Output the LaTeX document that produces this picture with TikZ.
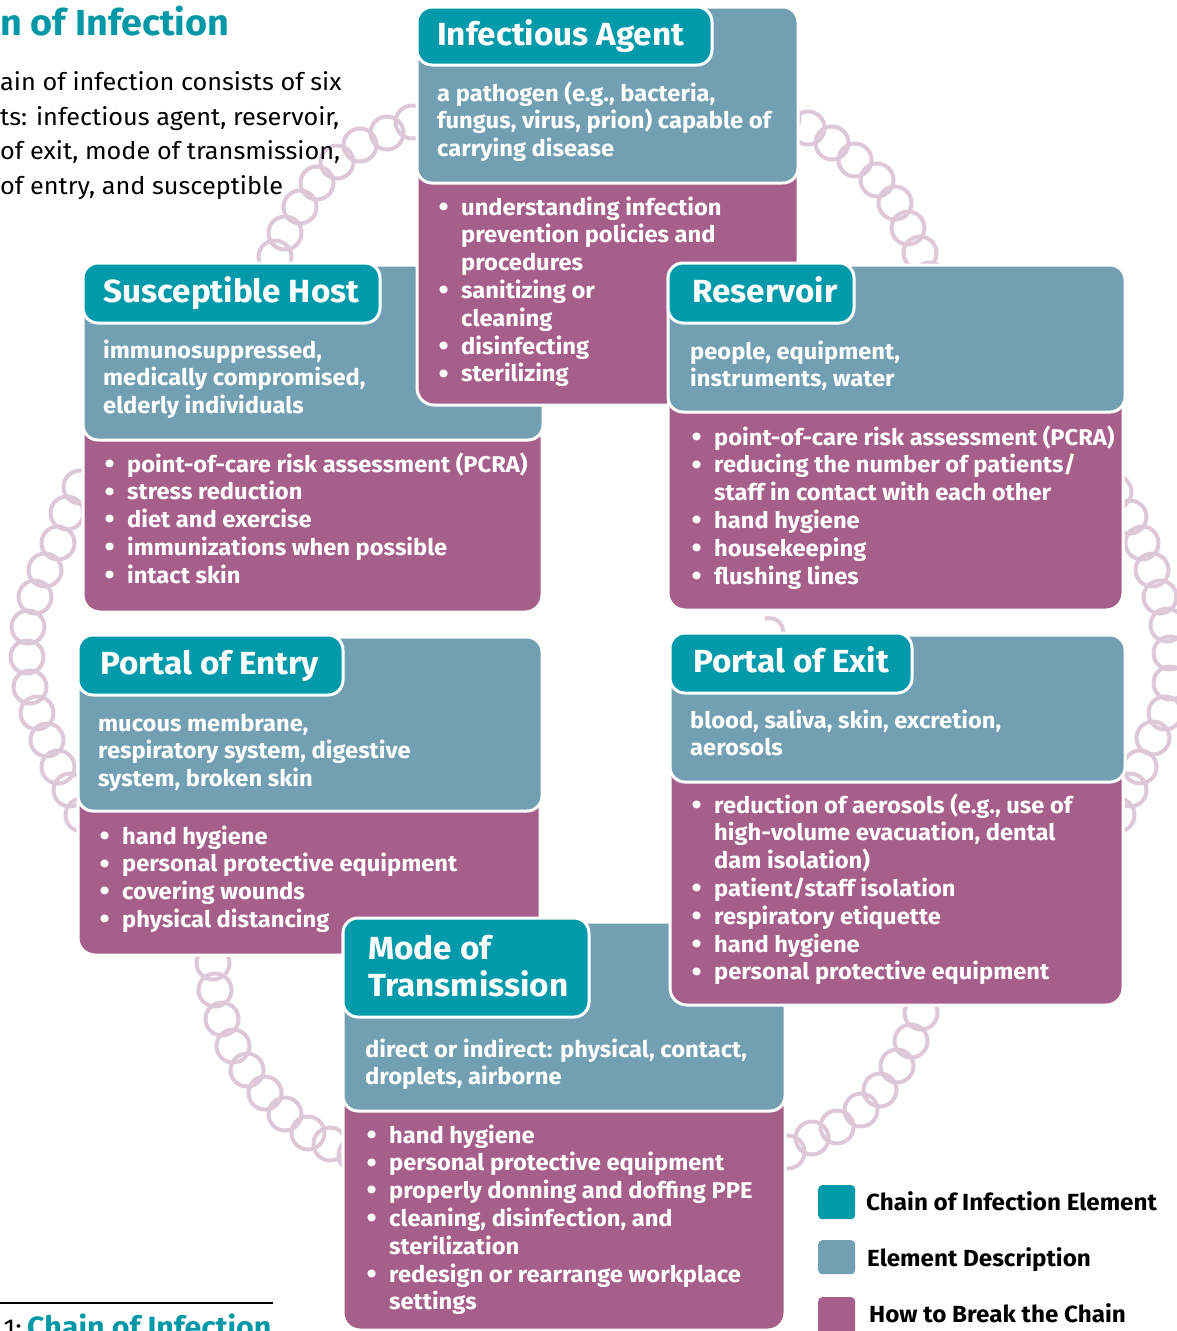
\documentclass[tikz,border=0pt]{standalone}
\usepackage{fontspec}
\setmainfont{Fira Sans}[FakeStretch=1.04]
\definecolor{tealc}{HTML}{009AAA}
\definecolor{steel}{HTML}{72A0B2}
\definecolor{mauve}{HTML}{A65F8A}
\definecolor{chainc}{HTML}{DCC8D6}
\definecolor{titleteal}{HTML}{0097A7}
\newcommand\blk[1]{\parbox[t]{480pt}{\fontsize{22.8}{27.8}\selectfont\bfseries #1}}
\newcommand\bul[1]{\par\hangindent=24pt\hangafter=1\noindent\makebox[24pt][l]{\hspace{1.5pt}\raisebox{-1.2pt}{\fontsize{28}{28}\selectfont\textbullet}}#1}
\begin{document}
\begin{tikzpicture}[x=1pt,y=-1pt,
  mbox/.style={fill=mauve, draw=white, line width=3pt, rounded corners=17pt, anchor=north west, inner sep=0pt, outer sep=0pt},
  dbox/.style={fill=steel, draw=white, line width=3pt, rounded corners=15pt, anchor=north west, inner sep=0pt, outer sep=0pt},
  tbox/.style={fill=tealc, draw=white, line width=3pt, rounded corners=15pt, anchor=north west, inner sep=0pt, outer sep=0pt},
  ttl/.style={text=white, font=\bfseries\fontsize{32}{37}\selectfont, anchor=base west, inner sep=0pt, align=left},
  txt/.style={text=white, anchor=base west, inner sep=0pt},
  legsq/.style={rounded corners=4pt, inner sep=0pt, minimum width=37pt, minimum height=34pt, anchor=north west},
  legtx/.style={font=\bfseries\fontsize{23.3}{27}\selectfont, anchor=base west, inner sep=0pt},
  intro/.style={anchor=base west, inner sep=0pt, font=\fontsize{24.3}{34.7}\selectfont},
  ring/.style={draw=chainc, line width=4pt}
]
\useasboundingbox (0,0) rectangle (1177,1331);

% ---------- chain ----------
\foreach \p in {(437,114),(412,122),(387,133),(360,145),(337,162),(317,183),(300,207),(285,233),(275,257),(266,283),
  (783,118),(808,128),(832,143),(855,160),(877,180),(895,203),(908,228),(920,253),(930,279),
  (1115,492),(1130,517),(1142,543),(1152,570),(1160,597),(1167,625),(1170,653),(1170,683),(1165,713),(1153,738),(1140,767),(1130,790),(1118,815),
  (80,487),(67,513),(58,543),(45,570),(35,597),(28,627),(27,657),(30,687),(37,713),(47,740),(58,767),(70,790),(82,815),
  (212,936),(213,963),(215,990),(222,1019),(233,1046),(247,1070),(265,1093),(285,1114),(308,1133),(330,1144),(355,1155),
  (788,1152),(812,1138),(837,1127),(861,1110),(880,1090),(897,1066),(911,1041),(921,1013),(928,986)}
  {\draw[ring] \p circle [radius=16.5pt];}
\draw[ring] (765,618.5) .. controls (775,617) and (783,621) .. (783.5,634);

% ---------- heading text ----------
\node[anchor=base west, inner sep=0pt, text=titleteal, font=\bfseries\fontsize{36.3}{40}\selectfont] (title) at (0,35) {n of Infection};
\node[intro] (intro1) at (0,90) {ain of infection consists of six};
\node[intro] (intro2) at (0,125) {ts: infectious agent, reservoir,};
\node[intro] (intro3) at (0,159) {of exit, mode of transmission,};
\node[intro] (intro4) at (0,194) {of entry, and susceptible};

% ---------- Susceptible Host ----------
\node[mbox, minimum width=459pt, minimum height=192pt] (shM) at (83,420) {};
\node[dbox, minimum width=460pt, minimum height=175pt] (shD) at (83,265) {};
\node[tbox, minimum width=297pt, minimum height=60pt] (shT) at (83,263) {};
\node[ttl] (shTt) at (103,302) {Susceptible Host};
\node[txt] (shDt) at (103,358) {\blk{immunosuppressed,\\ medically compromised,\\ elderly individuals}};
\node[txt] (shMt) at (103,472) {\blk{\bul{point-of-care risk assessment (PCRA)}\bul{stress reduction}\bul{diet and exercise}\bul{immunizations when possible}\bul{intact skin}}};

% ---------- Infectious Agent ----------
\node[mbox, minimum width=381pt, minimum height=245pt] (iaM) at (417,160) {};
\node[dbox, minimum width=381pt, minimum height=176pt] (iaD) at (417,7) {};
\node[tbox, minimum width=295pt, minimum height=58pt] (iaT) at (417,7) {};
\node[ttl] (iaTt) at (437,45) {Infectious Agent};
\node[txt] (iaDt) at (437,101) {\blk{a pathogen (e.g., bacteria,\\ fungus, virus, prion) capable of\\ carrying disease}};
\node[txt] (iaMt) at (437,215) {\blk{\bul{understanding infection\\ prevention policies and\\ procedures}\bul{sanitizing or\\ cleaning}\bul{disinfecting}\bul{sterilizing}}};

% ---------- Reservoir ----------
\node[mbox, minimum width=455pt, minimum height=220pt] (reM) at (668,390) {};
\node[dbox, minimum width=457pt, minimum height=147pt] (reD) at (668,265) {};
\node[tbox, minimum width=186pt, minimum height=60pt] (reT) at (668,263) {};
\node[ttl] (reTt) at (692,302) {Reservoir};
\node[txt] (reDt) at (690,359) {\blk{people, equipment,\\ instruments, water}};
\node[txt] (reMt) at (690,445) {\blk{\bul{point-of-care risk assessment (PCRA)}\bul{reducing the number of patients/\\ staff in contact with each other}\bul{hand hygiene}\bul{housekeeping}\bul{flushing lines}}};

% ---------- Portal of Entry ----------
\node[mbox, minimum width=462pt, minimum height=165pt] (peM) at (78,790) {};
\node[dbox, minimum width=464pt, minimum height=174pt] (peD) at (78,637) {};
\node[tbox, minimum width=265pt, minimum height=60pt] (peT) at (78,635) {};
\node[ttl] (peTt) at (100,674) {Portal of Entry};
\node[txt] (peDt) at (98,731) {\blk{mucous membrane,\\ respiratory system, digestive\\ system, broken skin}};
\node[txt] (peMt) at (98,844) {\blk{\bul{hand hygiene}\bul{personal protective equipment}\bul{covering wounds}\bul{physical distancing}}};

% ---------- Mode of Transmission ----------
\node[mbox, minimum width=442pt, minimum height=240pt] (mtM) at (343,1090) {};
\node[dbox, minimum width=442pt, minimum height=189pt] (mtD) at (343,922) {};
\node[tbox, minimum width=246pt, minimum height=99pt] (mtT) at (343,918) {};
\node[ttl] (mtTt) at (368,996) {Mode of\\ Transmission};
\node[txt] (mtDt) at (365,1057) {\blk{direct or indirect: physical, contact,\\ droplets, airborne}};
\node[txt] (mtMt) at (365,1143) {\blk{\bul{hand hygiene}\bul{personal protective equipment}\bul{properly donning and doffing PPE}\bul{cleaning, disinfection, and\\ sterilization}\bul{redesign or rearrange workplace\\ settings}}};

% ---------- Portal of Exit ----------
\node[mbox, minimum width=453pt, minimum height=245pt] (pxM) at (670,760) {};
\node[dbox, minimum width=455pt, minimum height=147pt] (pxD) at (670,635) {};
\node[tbox, minimum width=242pt, minimum height=60pt] (pxT) at (670,633) {};
\node[ttl] (pxTt) at (693,672) {Portal of Exit};
\node[txt] (pxDt) at (690,728) {\blk{blood, saliva, skin, excretion,\\ aerosols}};
\node[txt] (pxMt) at (690,813) {\blk{\bul{reduction of aerosols (e.g., use of\\ high-volume evacuation, dental\\ dam isolation)}\bul{patient/staff isolation}\bul{respiratory etiquette}\bul{hand hygiene}\bul{personal protective equipment}}};

% ---------- legend ----------
\node[legsq, fill=tealc] (lg1) at (818,1185) {};
\node[legsq, fill=steel] (lg2) at (818,1240) {};
\node[legsq, fill=mauve, minimum height=40pt] (lg3) at (818,1297) {};
\node[legtx] (lg1t) at (866,1210) {Chain of Infection Element};
\node[legtx] (lg2t) at (867,1266) {Element Description};
\node[legtx] (lg3t) at (869,1322) {How to Break the Chain};

% ---------- caption ----------
\coordinate (capL) at (0,1303);
\coordinate (capR) at (273,1303);
\draw[line width=1.6pt] (capL) -- (capR);
\node[anchor=base east, inner sep=0pt, font=\fontsize{26}{30}\selectfont] (capnum) at (22,1337) {1:};
\node[anchor=base west, inner sep=0pt, text=titleteal, font=\bfseries\fontsize{29.2}{30}\selectfont] (capt) at (27,1337) {Chain of Infection};
\end{tikzpicture}
\end{document}
